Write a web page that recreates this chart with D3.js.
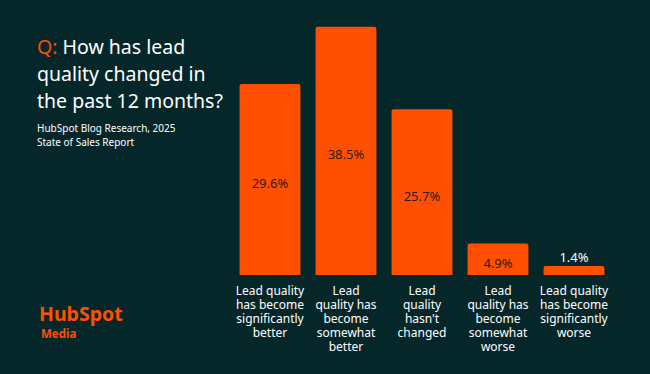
<!DOCTYPE html>
<html>
<head>
<meta charset="utf-8">
<script src="https://cdn.jsdelivr.net/npm/d3@7"></script>
<style>
  html, body { margin: 0; padding: 0; background: #05272a; }
  svg { display: block; }
</style>
</head>
<body>
<div id="chart"></div>
<script>
// Lead quality survey - bar chart

const categories = [
    ["Lead quality", "has become", "significantly", "better"],
    ["Lead", "quality has", "become", "somewhat", "better"],
    ["Lead", "quality", "hasn't", "changed"],
    ["Lead", "quality has", "become", "somewhat", "worse"],
    ["Lead quality", "has become", "significantly", "worse"]
];
const values = [29.6, 38.5, 25.7, 4.9, 1.4];
const titleLines = ["How has lead", "quality changed in", "the past 12 months?"];
const sourceLines = ["HubSpot Blog Research, 2025", "State of Sales Report"];

const width = 650, height = 374;
const orange = "#ff4f00";
const font = "'Noto Sans', sans-serif";

const svg = d3.select("#chart")
    .append("svg")
    .attr("width", width)
    .attr("height", height)
    .style("background", "#05272a");

// scales
const x = d3.scaleBand()
    .domain(d3.range(values.length))
    .range([232, 612])
    .paddingInner(0.2)
    .paddingOuter(0.1);

const y = d3.scaleLinear()
    .domain([0, 40])
    .range([275, 17]);

// bars with slightly rounded tops
const barPath = (i) => {
    const x0 = x(i), w = x.bandwidth(), y0 = y(values[i]), y1 = y(0), r = 2;
    return `M${x0},${y1}V${y0 + r}Q${x0},${y0} ${x0 + r},${y0}H${x0 + w - r}Q${x0 + w},${y0} ${x0 + w},${y0 + r}V${y1}Z`;
};

svg.selectAll(".bar")
    .data(values)
    .enter()
    .append("path")
    .attr("class", "bar")
    .attr("d", (d, i) => barPath(i))
    .attr("fill", orange);

// value labels: inside bar if it fits, otherwise above
svg.selectAll(".value")
    .data(values)
    .enter()
    .append("text")
    .attr("class", "value")
    .attr("x", (d, i) => x(i) + x.bandwidth() / 2)
    .attr("y", d => (y(0) - y(d)) > 24 ? (y(d) + y(0)) / 2 + 4 : y(d) - 9)
    .attr("dy", "0.35em")
    .attr("text-anchor", "middle")
    .style("font-family", font)
    .style("font-size", "13px")
    .style("fill", d => (y(0) - y(d)) > 24 ? "#2b1d18" : "#ffffff")
    .text(d => d.toFixed(1) + "%");

// category labels
const cat = svg.selectAll(".cat")
    .data(categories)
    .enter()
    .append("text")
    .attr("class", "cat")
    .attr("text-anchor", "middle")
    .style("font-family", font)
    .style("font-size", "12px")
    .style("fill", "#ffffff");

cat.selectAll("tspan")
    .data((d, i) => d.map(line => ({ line, i })))
    .enter()
    .append("tspan")
    .attr("x", d => x(d.i) + x.bandwidth() / 2)
    .attr("y", (d, j) => 295 + j * 14)
    .text(d => d.line);

// title
const title = svg.append("text")
    .style("font-family", font)
    .style("font-size", "19.5px")
    .style("fill", "#ffffff");

titleLines.forEach((line, j) => {
    const t = title.append("tspan")
        .attr("x", 37)
        .attr("y", 54 + j * 27);
    if (j === 0) {
        t.append("tspan").style("fill", orange).text("Q: ");
    }
    t.append("tspan").text(line);
});

// source
svg.selectAll(".source")
    .data(sourceLines)
    .enter()
    .append("text")
    .attr("class", "source")
    .attr("x", 37)
    .attr("y", (d, j) => 132 + j * 14)
    .style("font-family", font)
    .style("font-size", "10px")
    .style("fill", "#ffffff")
    .text(d => d);

// logo
svg.append("text")
    .attr("x", 39)
    .attr("y", 321)
    .style("font-family", font)
    .style("font-size", "19.5px")
    .style("font-weight", "bold")
    .style("fill", orange)
    .text("HubSpot");

svg.append("text")
    .attr("x", 41)
    .attr("y", 338)
    .style("font-family", font)
    .style("font-size", "11.5px")
    .style("font-weight", "bold")
    .style("fill", orange)
    .text("Media");
</script>
</body>
</html>
